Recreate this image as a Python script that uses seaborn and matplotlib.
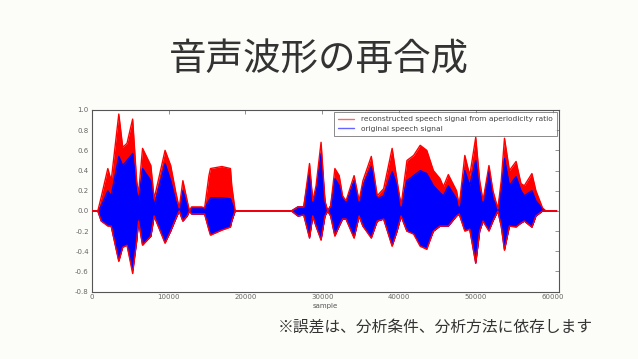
#Libraries
import numpy as np
import pandas as pd
import matplotlib
matplotlib.use('Agg')
import matplotlib.pyplot as plt
from matplotlib.lines import Line2D
import seaborn as sns

#Envelope of the two waveforms
sample = [0, 800, 1250, 2100, 2540, 3530, 4040, 4600, 5330, 5850, 6100, 6620, 7700, 8130,
          9550, 10280, 10930, 11390, 11870, 12430, 12730, 13000, 14300, 14700, 15260, 15460,
          16940, 18060, 18230, 18670, 26000, 26840, 27600, 28350, 28770, 29200, 29850, 30360,
          30710, 31100, 31650, 32210, 32650, 33100, 34150, 34800, 35300, 36390, 37160, 38000,
          39100, 39740, 40260, 41030, 41900, 42750, 43610, 44470, 45330, 45770, 46410, 47480,
          47830, 48560, 49200, 49980, 50490, 50930, 51700, 52220, 52860, 53300, 53720, 54360,
          55230, 55870, 56300, 57290, 57810, 58670, 59100, 60500]

recon_hi = [0, 0, 0.14, 0.42, 0.30, 0.96, 0.63, 0.67, 0.91, 0.30, 0.17, 0.62, 0.45, 0.12,
            0.60, 0.45, 0.19, 0.03, 0.30, 0.10, 0.0, 0.04, 0.04, 0.03, 0.35, 0.42,
            0.44, 0.42, 0.25, 0.0, 0.0, 0.04, 0.04, 0.47, 0.10, 0.25, 0.68, 0.10,
            0.0, 0.05, 0.42, 0.35, 0.15, 0.10, 0.35, 0.10, 0.30, 0.54, 0.15, 0.22,
            0.62, 0.30, 0.05, 0.50, 0.55, 0.65, 0.60, 0.40, 0.32, 0.24, 0.36, 0.20,
            0.05, 0.55, 0.35, 0.73, 0.30, 0.10, 0.45, 0.20, 0.02, 0.30, 0.72, 0.40,
            0.49, 0.27, 0.25, 0.37, 0.20, 0.03, 0.0, 0.0]

orig_hi = [0, 0, 0.05, 0.20, 0.15, 0.54, 0.45, 0.50, 0.57, 0.20, 0.10, 0.42, 0.30, 0.05,
           0.47, 0.30, 0.10, 0.0, 0.20, 0.05, 0.0, 0.03, 0.03, 0.03, 0.10, 0.13,
           0.13, 0.12, 0.08, 0.0, 0.0, 0.04, 0.04, 0.40, 0.08, 0.20, 0.57, 0.08,
           0.0, 0.05, 0.32, 0.25, 0.12, 0.08, 0.30, 0.08, 0.25, 0.44, 0.12, 0.15,
           0.39, 0.25, 0.05, 0.30, 0.35, 0.40, 0.37, 0.25, 0.18, 0.15, 0.25, 0.12,
           0.05, 0.40, 0.25, 0.50, 0.20, 0.08, 0.40, 0.12, 0.02, 0.22, 0.52, 0.25,
           0.34, 0.20, 0.15, 0.20, 0.10, 0.02, 0.0, 0.0]

orig_lo = [0, 0, -0.10, -0.14, -0.15, -0.49, -0.35, -0.33, -0.59, -0.30, -0.10, -0.33, -0.25, -0.05,
           -0.31, -0.20, -0.08, 0.0, -0.10, -0.05, 0.0, -0.03, -0.03, -0.03, -0.18, -0.23,
           -0.18, -0.15, -0.10, 0.0, 0.0, -0.05, -0.04, -0.26, -0.05, -0.15, -0.28, -0.05,
           0.0, -0.05, -0.24, -0.15, -0.08, -0.08, -0.26, -0.05, -0.15, -0.26, -0.10, -0.08,
           -0.34, -0.20, -0.05, -0.20, -0.22, -0.34, -0.36, -0.20, -0.15, -0.15, -0.15, -0.05,
           -0.03, -0.19, -0.18, -0.51, -0.20, -0.10, -0.19, -0.10, 0.0, -0.15, -0.38, -0.15,
           -0.15, -0.12, -0.10, -0.16, -0.05, 0.0, 0.0, 0.0]

recon_lo = [0, 0, -0.10, -0.15, -0.15, -0.50, -0.36, -0.34, -0.62, -0.30, -0.10, -0.34, -0.25, -0.05,
            -0.32, -0.20, -0.08, 0.0, -0.10, -0.05, 0.0, -0.03, -0.03, -0.03, -0.19, -0.24,
            -0.19, -0.16, -0.10, 0.0, 0.0, -0.05, -0.04, -0.27, -0.05, -0.15, -0.29, -0.05,
            0.0, -0.05, -0.25, -0.15, -0.08, -0.08, -0.27, -0.05, -0.15, -0.27, -0.10, -0.08,
            -0.35, -0.20, -0.05, -0.20, -0.23, -0.35, -0.38, -0.20, -0.15, -0.15, -0.15, -0.05,
            -0.03, -0.20, -0.18, -0.52, -0.20, -0.10, -0.20, -0.10, 0.0, -0.15, -0.39, -0.15,
            -0.16, -0.12, -0.10, -0.16, -0.05, 0.0, 0.0, 0.0]

recon_label = 'reconstructed speech signal from aperiodicity ratio'
orig_label = 'original speech signal'
x_ticks = [0, 10000, 20000, 30000, 40000, 50000, 60000]
y_ticks = [-0.8, -0.6, -0.4, -0.2, 0.0, 0.2, 0.4, 0.6, 0.8, 1.0]

title = '音声波形の再合成'
note = '※誤差は、分析条件、分析方法に依存します'

#Long table for seaborn: one line per edge of each envelope
rows = []
for lab, hi, lo in [(recon_label, recon_hi, recon_lo), (orig_label, orig_hi, orig_lo)]:
    for edge, vals in [('hi', hi), ('lo', lo)]:
        for s, v in zip(sample, vals):
            rows.append({'sample': s, 'amp': v, 'signal': lab, 'edge': edge})
df = pd.DataFrame(rows)

sns.set_style('white')
plt.rcParams['font.family'] = ['DejaVu Sans']
bg = '#fcfcf8'

fig = plt.figure(figsize=(6.38, 3.59), dpi=100, facecolor=bg)
ax = fig.add_axes([0.1437, 0.1875, 0.7323, 0.5061])
ax.set_facecolor('white')

red = '#ff0000'
blue = '#0000ff'

ax.fill_between(sample, recon_lo, recon_hi, color=red, lw=0, zorder=1)
ax.fill_between(sample, orig_lo, orig_hi, color=blue, lw=0, zorder=3)

sns.lineplot(data=df, x='sample', y='amp', hue='signal', units='edge', estimator=None,
             hue_order=[recon_label, orig_label], palette={recon_label: red, orig_label: blue},
             lw=1.0, ax=ax, legend=False)
# red outline drawn last so the flat zero stretches show red, as in the original plot
for i, line in enumerate(ax.lines):
    line.set_zorder(5 if i < 2 else 4)

ax.set_xlim(0, 60800)
ax.set_ylim(-0.8, 1.0)
ax.set_xticks(x_ticks)
ax.set_yticks(y_ticks)
ax.set_yticklabels([f'{v:.1f}' for v in y_ticks])
ax.tick_params(direction='in', length=3, width=0.5, labelsize=5, colors='#666666',
               top=True, right=True, pad=2)
ax.set_xlabel('sample', fontsize=5, color='#555555', labelpad=2)
ax.set_ylabel('')
for sp in ax.spines.values():
    sp.set_color('#555555')
    sp.set_linewidth(0.8)

handles = [Line2D([], [], color=red, lw=1, alpha=0.6), Line2D([], [], color=blue, lw=1, alpha=0.6)]
leg = ax.legend(handles, [recon_label, orig_label], loc='upper right', fontsize=5.4,
                frameon=True, fancybox=False, handlelength=2.2, handletextpad=0.9,
                borderaxespad=0.3, labelspacing=0.45, borderpad=0.5)
leg.get_frame().set_edgecolor('#555555')
leg.get_frame().set_linewidth(0.6)
for t in leg.get_texts():
    t.set_color('#444444')

fig.text(0.5, 0.833, title, ha='center', va='center', fontsize=27, color='#333333',
         family=['Noto Sans CJK JP', 'DejaVu Sans'])
fig.text(0.435, 0.09, note, ha='left', va='center', fontsize=11.3, color='#333333',
         family=['Noto Sans CJK JP', 'DejaVu Sans'])

plt.savefig('out.png', dpi=100, facecolor=bg)
